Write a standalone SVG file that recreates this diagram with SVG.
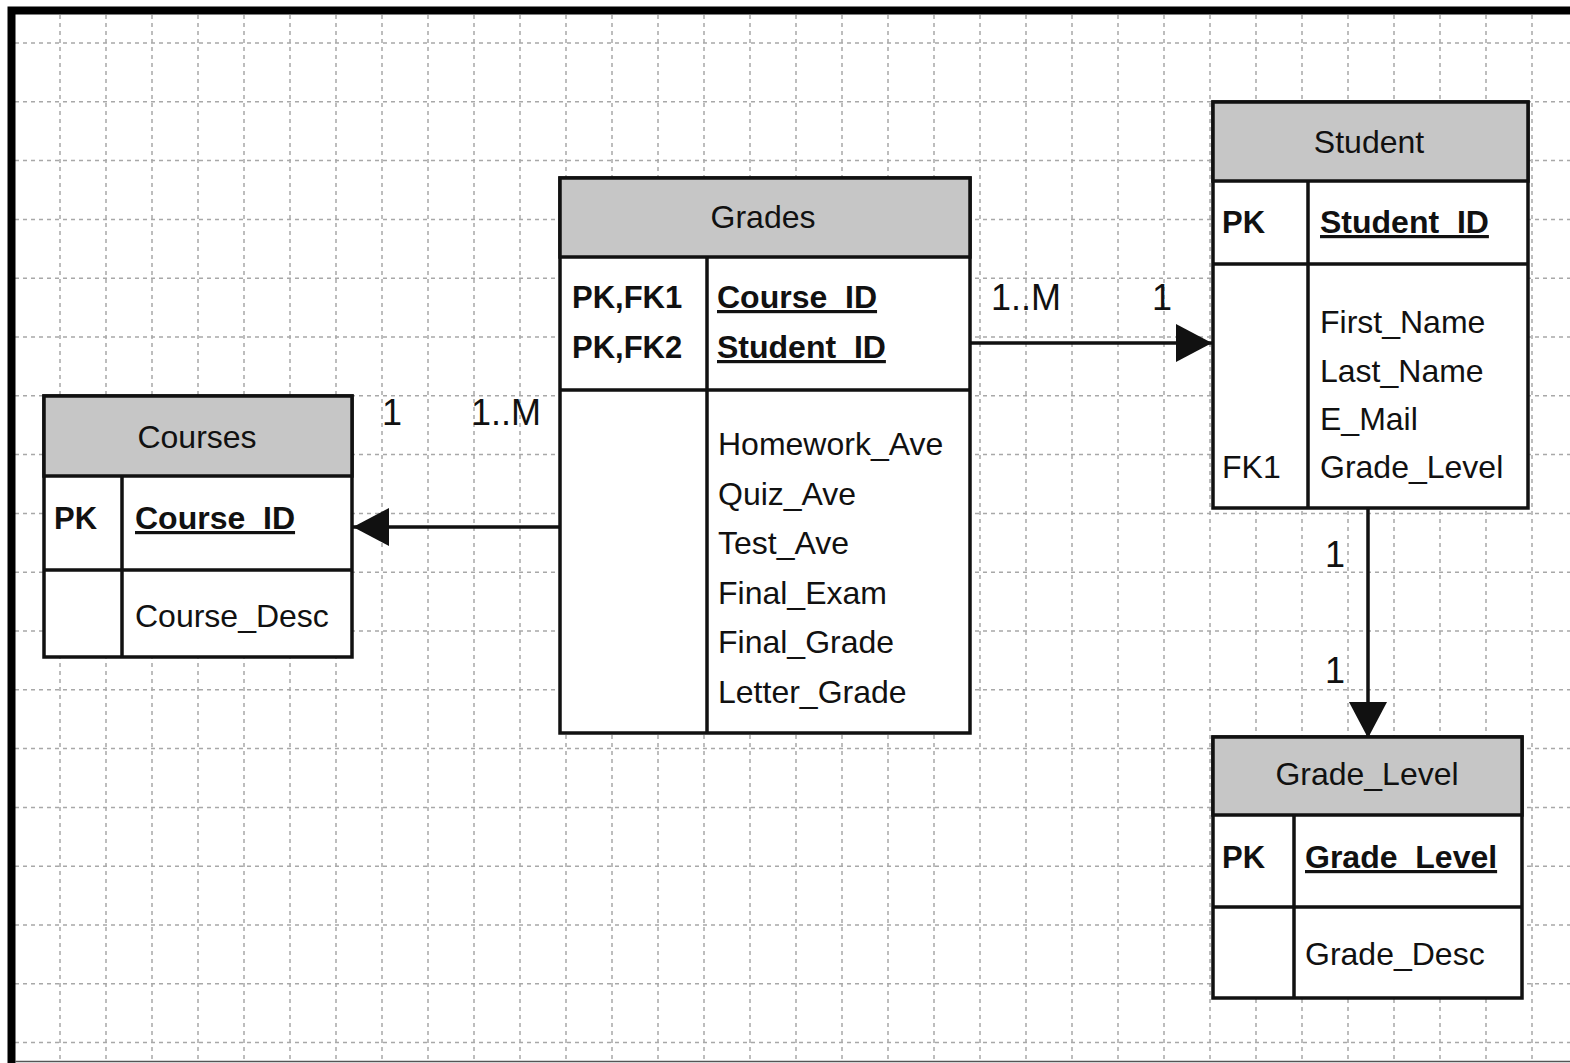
<svg xmlns="http://www.w3.org/2000/svg" width="1570" height="1063" viewBox="0 0 1570 1063">
<style>
  text { font-family: "Liberation Sans", Arial, sans-serif; fill: #111; }
  .hdr { font-size: 32px; text-anchor: middle; }
  .fld { font-size: 32px; }
  .key { font-size: 31px; font-weight: bold; }
  .pk { font-size: 32px; font-weight: bold; text-decoration: underline; }
  .lbl { font-size: 36px; }
  .box { fill: #fff; stroke: #111; stroke-width: 3.5; }
  .head { fill: #c6c6c6; stroke: #111; stroke-width: 3.5; }
  .div { stroke: #111; stroke-width: 3.5; fill: none; }
  .grid { stroke: #a8a8a8; stroke-width: 1.5; stroke-dasharray: 4 4; fill: none; }
  .conn { stroke: #111; stroke-width: 3.5; fill: none; marker-end: url(#arr); }
</style>
<defs>
  <marker id="arr" markerUnits="userSpaceOnUse" markerWidth="38" markerHeight="40" refX="36" refY="19" orient="auto">
    <path d="M0,0 L36,19 L0,38 Z" fill="#111"/>
  </marker>
</defs>
<rect x="0" y="0" width="1570" height="1063" fill="#fff"/>
<g id="grid">
  <path class="grid" d="M60,15V1063 M106,15V1063 M152,15V1063 M198,15V1063 M244,15V1063 M290,15V1063 M336,15V1063 M382,15V1063 M428,15V1063 M474,15V1063 M520,15V1063 M566,15V1063 M612,15V1063 M658,15V1063 M704,15V1063 M750,15V1063 M796,15V1063 M842,15V1063 M888,15V1063 M934,15V1063 M980,15V1063 M1026,15V1063 M1072,15V1063 M1118,15V1063 M1164,15V1063 M1210,15V1063 M1256,15V1063 M1302,15V1063 M1348,15V1063 M1394,15V1063 M1440,15V1063 M1486,15V1063 M1532,15V1063"/>
  <path class="grid" d="M15,43H1570 M15,101.8H1570 M15,160.6H1570 M15,219.4H1570 M15,278.2H1570 M15,337H1570 M15,395.8H1570 M15,454.6H1570 M15,513.4H1570 M15,572.2H1570 M15,631H1570 M15,689.8H1570 M15,748.6H1570 M15,807.4H1570 M15,866.2H1570 M15,925H1570 M15,983.8H1570 M15,1042.6H1570"/>
</g>
<g id="frame">
  <path d="M11.5,1063 V10.5 H1570" fill="none" stroke="#000" stroke-width="8"/>
  <path d="M15,1061.5 H1570" fill="none" stroke="#555" stroke-width="1.5"/>
</g>
<g id="connectors">
  <line class="conn" x1="970" y1="343" x2="1212" y2="343"/>
  <line class="conn" x1="560" y1="527" x2="353" y2="527"/>
  <line class="conn" x1="1368" y1="508" x2="1368" y2="738"/>
  <text class="lbl" x="991" y="310">1..M</text>
  <text class="lbl" x="1152" y="310">1</text>
  <text class="lbl" x="382" y="425">1</text>
  <text class="lbl" x="471" y="425">1..M</text>
  <text class="lbl" x="1325" y="567">1</text>
  <text class="lbl" x="1325" y="683">1</text>
</g>
<g id="grades">
  <rect class="box" x="560" y="178" width="410" height="555"/>
  <rect class="head" x="560" y="178" width="410" height="79"/>
  <path class="div" d="M560,390 H970 M707,257 V733"/>
  <text class="hdr" x="763" y="228">Grades</text>
  <text class="key" x="572" y="308">PK,FK1</text>
  <text class="key" x="572" y="358">PK,FK2</text>
  <text class="pk" x="717" y="308">Course_ID</text>
  <text class="pk" x="717" y="358">Student_ID</text>
  <text class="fld" x="718" y="455">Homework_Ave</text>
  <text class="fld" x="718" y="505">Quiz_Ave</text>
  <text class="fld" x="718" y="554">Test_Ave</text>
  <text class="fld" x="718" y="604">Final_Exam</text>
  <text class="fld" x="718" y="653">Final_Grade</text>
  <text class="fld" x="718" y="703">Letter_Grade</text>
</g>
<g id="student">
  <rect class="box" x="1213" y="102" width="315" height="406"/>
  <rect class="head" x="1213" y="102" width="315" height="79"/>
  <path class="div" d="M1213,264 H1528 M1308,181 V508"/>
  <text class="hdr" x="1369" y="153">Student</text>
  <text class="key" x="1222" y="233">PK</text>
  <text class="pk" x="1320" y="233">Student_ID</text>
  <text class="fld" x="1320" y="333">First_Name</text>
  <text class="fld" x="1320" y="382">Last_Name</text>
  <text class="fld" x="1320" y="430">E_Mail</text>
  <text class="fld" x="1222" y="478">FK1</text>
  <text class="fld" x="1320" y="478">Grade_Level</text>
</g>
<g id="courses">
  <rect class="box" x="44" y="396" width="308" height="261"/>
  <rect class="head" x="44" y="396" width="308" height="80"/>
  <path class="div" d="M44,570 H352 M122,476 V657"/>
  <text class="hdr" x="197" y="448">Courses</text>
  <text class="key" x="54" y="529">PK</text>
  <text class="pk" x="135" y="529">Course_ID</text>
  <text class="fld" x="135" y="627">Course_Desc</text>
</g>
<g id="grade_level">
  <rect class="box" x="1213" y="737" width="309" height="261"/>
  <rect class="head" x="1213" y="737" width="309" height="78"/>
  <path class="div" d="M1213,907 H1522 M1294,815 V998"/>
  <text class="hdr" x="1367" y="785">Grade_Level</text>
  <text class="key" x="1222" y="868">PK</text>
  <text class="pk" x="1305" y="868">Grade_Level</text>
  <text class="fld" x="1305" y="965">Grade_Desc</text>
</g>
</svg>
